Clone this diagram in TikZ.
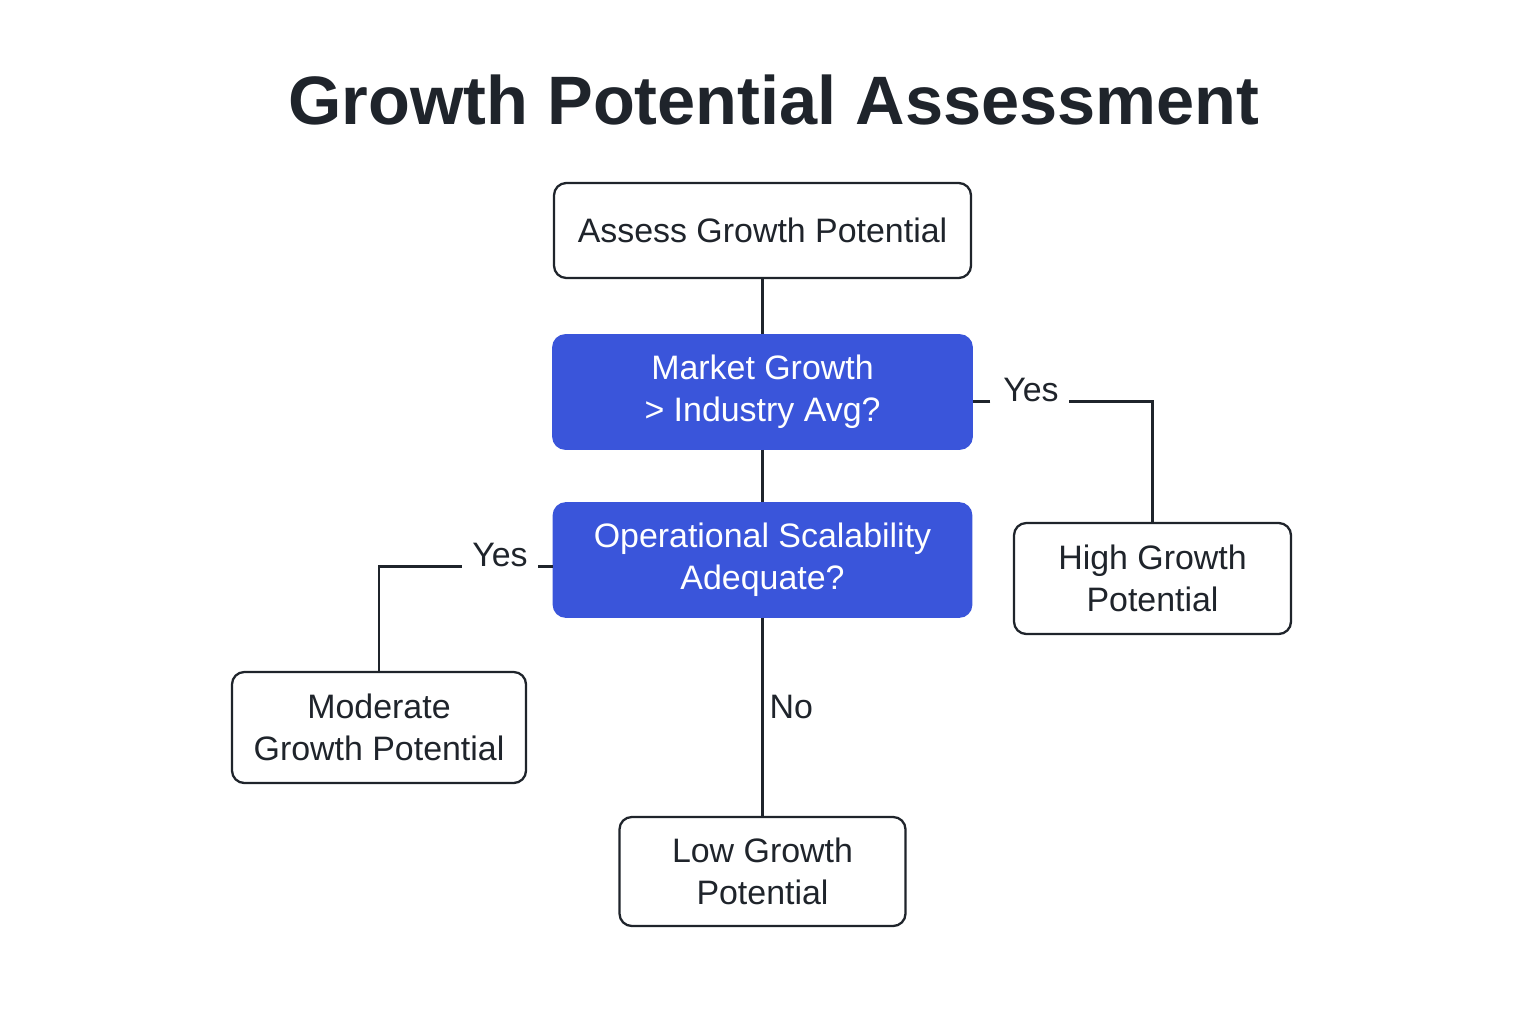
\documentclass[tikz,border=0pt]{standalone}
\usepackage{fontspec}
\setmainfont{Liberation Sans}
\usepackage{xcolor}
\usetikzlibrary{positioning, calc}

\definecolor{inkdark}{HTML}{1F242B}
\definecolor{qblue}{HTML}{3A55DA}

\begin{document}
\begin{tikzpicture}[
    outcome/.style={draw=inkdark, line width=1.3pt, rounded corners=7pt, fill=white, align=center, text=inkdark, font=\fontsize{19.3}{24}\selectfont},
    question/.style={draw=qblue, line width=1pt, rounded corners=7pt, fill=qblue, align=center, text=white, font=\fontsize{19.3}{24}\selectfont},
    branch/.style={text=inkdark, font=\fontsize{19.3}{24}\selectfont, inner sep=0pt},
    link/.style={draw=inkdark, line width=1.3pt}
]
    \useasboundingbox (0,0) rectangle (30.72,20.48);

    % Title
    \node[font=\fontsize{39}{46}\selectfont\bfseries, text=inkdark] (title) at (15.48, 18.48) {Growth Potential Assessment};

    % Start and decisions
    \node[outcome, minimum width=8.34cm, minimum height=1.9cm] (assess) at (15.25, 15.87) {Assess Growth Potential};
    \node[question, minimum width=8.38cm, minimum height=2.28cm] (market) at (15.25, 12.64) {Market Growth\\> Industry Avg?};
    \node[question, minimum width=8.36cm, minimum height=2.28cm] (oper) at (15.25, 9.28) {Operational Scalability\\Adequate?};

    % Outcomes
    \node[outcome, minimum width=5.54cm, minimum height=2.22cm] (high) at (23.05, 8.91) {High Growth\\Potential};
    \node[outcome, minimum width=5.88cm, minimum height=2.22cm] (moderate) at (7.58, 5.93) {Moderate\\Growth Potential};
    \node[outcome, minimum width=5.72cm, minimum height=2.18cm] (low) at (15.25, 3.05) {Low Growth\\Potential};

    % Branch labels
    \node[branch] (yesR) at (20.62, 12.68) {Yes};
    \node[branch] (yesL) at (10.0, 9.38) {Yes};

    \draw[link] (assess) -- (market);
    \draw[link] (market) -- (oper);
    \draw[link] (oper) -- node[branch, pos=0.45, right=0.12cm] (no) {No} (low);

    \draw[link] ($(yesR.base west)+(-0.25,0)$) -- ($(yesR.base west -| market.east)$);
    \draw[link] ($(yesR.base east)+(0.2,0)$) -- (yesR.base east -| high.north) -- (high.north);

    \draw[link] ($(yesL.base east)+(0.2,0)$) -- (yesL.base east -| oper.west);
    \draw[link] ($(yesL.base west)+(-0.2,0)$) -- (yesL.base west -| moderate.north) -- (moderate.north);
\end{tikzpicture}
\end{document}
